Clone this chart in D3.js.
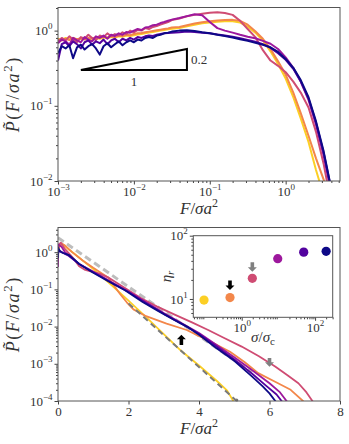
<!DOCTYPE html>
<html>
<head>
<meta charset="utf-8">
<script src="https://cdn.jsdelivr.net/npm/d3@7"></script>
<style>
  body { margin: 0; background: #fff; }
  svg text { font-family: "Liberation Serif", "DejaVu Serif", serif; fill: #333; }
</style>
</head>
<body>
<svg id="chart" width="349" height="444"></svg>
<script>
"use strict";

// plasma-like colours, from low sigma (yellow) to high sigma (navy)
const curveColors = ["#fccf25", "#f3874a", "#cf4c73", "#9d189d", "#53029f", "#0d0887"];

// ---- top panel: P(F) on log-log axes ----
// shared F grid: dense in the noisy low-F region, coarser in the tail
const topF = [
  1.00e-3, 1.12e-3, 1.26e-3, 1.41e-3, 1.58e-3, 1.78e-3, 2.00e-3, 2.24e-3, 2.51e-3, 2.82e-3,
  3.16e-3, 3.55e-3, 3.98e-3, 4.47e-3, 5.01e-3, 5.62e-3, 6.31e-3, 7.08e-3, 7.94e-3, 8.91e-3,
  1.00e-2, 1.12e-2, 1.26e-2, 1.41e-2, 1.58e-2, 1.78e-2, 2.00e-2, 2.24e-2, 2.51e-2, 2.82e-2, 3.16e-2,
  3.98e-2, 5.01e-2, 6.31e-2, 7.94e-2, 0.100, 0.126, 0.158, 0.200, 0.251, 0.316, 0.398,
  0.501, 0.631, 0.794, 1.00, 1.26, 1.58, 2.00, 2.51, 3.16, 3.98
];
const topYellow = [
  0.78, 0.75, 0.80, 0.77, 0.79, 0.76, 0.78, 0.80, 0.77, 0.79, 0.80, 0.78, 0.81, 0.80, 0.82, 0.81,
  0.84, 0.83, 0.86, 0.85, 0.87, 0.89, 0.90, 0.92, 0.94, 0.96, 0.98, 1.00, 1.02, 1.04, 1.06,
  1.08, 1.14, 1.20, 1.25, 1.28, 1.31, 1.33, 1.33, 1.28, 1.13, 0.94, 0.74, 0.53, 0.36, 0.23,
  0.13, 0.068, 0.033, 0.014, 0.0065, 0.003
];
const topOrange = [
  0.76, 0.74, 0.78, 0.75, 0.80, 0.77, 0.79, 0.76, 0.80, 0.78, 0.82, 0.80, 0.83, 0.81, 0.84, 0.82,
  0.86, 0.85, 0.88, 0.87, 0.90, 0.92, 0.93, 0.95, 0.97, 0.99, 1.01, 1.03, 1.05, 1.07, 1.10,
  1.12, 1.18, 1.24, 1.29, 1.33, 1.36, 1.38, 1.39, 1.35, 1.20, 0.98, 0.78, 0.57, 0.39, 0.26,
  0.15, 0.08, 0.04, 0.02, 0.0105, 0.005
];
const topPink = [
  0.72, 0.80, 0.74, 0.84, 0.76, 0.70, 0.82, 0.78, 0.88, 0.80, 0.75, 0.86, 0.82, 0.92, 0.84, 0.90,
  0.86, 0.95, 0.90, 1.00, 0.95, 1.02, 1.00, 1.08, 1.05, 1.12, 1.15, 1.20, 1.25, 1.30, 1.38,
  1.45, 1.55, 1.62, 1.68, 1.73, 1.75, 1.72, 1.62, 1.35, 1.05, 0.82, 0.55, 0.40, 0.34, 0.28,
  0.21, 0.15, 0.095, 0.045, 0.017, 0.005
];
const topPurple = [
  0.68, 0.76, 0.72, 0.65, 0.80, 0.74, 0.70, 0.82, 0.76, 0.72, 0.84, 0.80, 0.86, 0.78, 0.88, 0.85,
  0.92, 0.88, 0.96, 0.94, 1.00, 1.05, 1.02, 1.10, 1.12, 1.18, 1.20, 1.26, 1.30, 1.35, 1.40,
  1.47, 1.56, 1.65, 1.60, 1.30, 1.08, 1.00, 0.94, 0.88, 0.83, 0.79, 0.73, 0.67, 0.57, 0.44,
  0.32, 0.21, 0.12, 0.056, 0.022, 0.007
];
const topIndigo = [
  0.40, 0.66, 0.70, 0.62, 0.72, 0.66, 0.58, 0.70, 0.74, 0.65, 0.72, 0.68, 0.76, 0.66, 0.74, 0.78,
  0.70, 0.78, 0.74, 0.80, 0.76, 0.82, 0.80, 0.84, 0.86, 0.85, 0.88, 0.90, 0.92, 0.93, 0.94,
  0.95, 0.97, 0.96, 0.94, 0.92, 0.89, 0.86, 0.83, 0.79, 0.75, 0.71, 0.66, 0.59, 0.50, 0.41,
  0.31, 0.21, 0.125, 0.06, 0.024, 0.0078
];
const topNavy = [
  0.50, 0.62, 0.58, 0.64, 0.43, 0.60, 0.65, 0.56, 0.62, 0.66, 0.58, 0.48, 0.62, 0.68, 0.60, 0.66,
  0.72, 0.64, 0.70, 0.74, 0.70, 0.76, 0.74, 0.80, 0.82, 0.80, 0.86, 0.88, 0.92, 0.94, 0.97,
  1.00, 1.01, 0.99, 0.95, 0.92, 0.88, 0.85, 0.81, 0.77, 0.73, 0.69, 0.65, 0.60, 0.52, 0.42,
  0.32, 0.22, 0.13, 0.062, 0.025, 0.008
];
// slope-0.2 guide triangle
const triF = [0.002, 0.05];
const triP = 0.3;
const triSlope = 0.2;

// ---- bottom panel: P(F) on lin-log axes, [F, P] pairs ----
const botYellow = [[0, 1.1], [0.05, 1.5], [0.15, 1.6], [0.3, 1.2], [0.5, 0.85], [1.0, 0.35], [1.5, 0.135],
  [2.0, 0.05], [2.5, 0.018], [3.0, 0.0063], [3.5, 0.0022], [4.0, 0.0009], [4.5, 0.00035], [4.8, 0.00019], [5.0, 0.00009]];
const botOrange = [[0, 1.2], [0.08, 1.75], [0.2, 1.5], [0.4, 1.0], [0.7, 0.6], [1.0, 0.38], [1.42, 0.21], [1.76, 0.075],
  [1.95, 0.045], [2.14, 0.029], [2.5, 0.019], [3.08, 0.012], [3.65, 0.0081], [4.31, 0.004], [4.88, 0.0021],
  [5.3, 0.0011], [5.68, 0.00056], [6.16, 0.00033], [6.6, 0.0002], [6.95, 0.0001], [7.0, 0.00008]];
const botPink = [[0, 1.5], [0.08, 1.8], [0.2, 1.2], [0.35, 0.85], [0.47, 0.62], [0.6, 0.42], [0.75, 0.34], [0.95, 0.3],
  [1.2, 0.26], [1.42, 0.21], [1.62, 0.16], [2.0, 0.095], [2.36, 0.058], [2.8, 0.035], [3.31, 0.021], [3.8, 0.013],
  [4.26, 0.0081], [4.7, 0.005], [5.21, 0.0029], [5.7, 0.0016], [6.16, 0.00085], [6.5, 0.0005], [6.82, 0.0003],
  [7.05, 0.00017], [7.25, 0.00009]];
const botPurple = [[0, 0.4], [0.01, 1.6], [0.1, 1.4], [0.2, 1.0], [0.4, 0.7], [0.6, 0.48], [1.0, 0.3], [1.5, 0.16],
  [2.0, 0.088], [2.5, 0.045], [3.0, 0.023], [3.5, 0.0125], [4.0, 0.0067], [4.5, 0.0032], [5.0, 0.0015],
  [5.5, 0.00068], [6.0, 0.0003], [6.3, 0.00017], [6.52, 0.00009]];
const botIndigo = [[0, 0.9], [0.03, 1.15], [0.1, 1.0], [0.3, 0.8], [0.6, 0.48], [1.0, 0.29], [1.5, 0.155], [2.0, 0.085],
  [2.5, 0.043], [3.0, 0.022], [3.5, 0.012], [4.0, 0.0064], [4.5, 0.0029], [5.0, 0.0013], [5.5, 0.00055],
  [5.9, 0.00026], [6.2, 0.00015], [6.38, 0.00009]];
const botNavy = [[0, 0.7], [0.01, 1.3], [0.05, 1.05], [0.15, 0.95], [0.3, 0.85], [0.45, 0.65], [0.6, 0.48], [1.0, 0.28],
  [1.5, 0.15], [1.9, 0.095], [2.4, 0.046], [2.85, 0.026], [3.3, 0.015], [3.7, 0.0095], [4.0, 0.006], [4.5, 0.0026],
  [5.0, 0.0012], [5.5, 0.00046], [5.8, 0.00025], [6.0, 0.00016], [6.2, 0.00009]];
// exponential guides
const guideLight = [[0, 2.45], [5.5, 0.00058]];
const guideDark = [[2.0, 0.042], [5.07, 0.0001]];
// arrows: x, tail y, tip y
const botArrows = [{x: 3.5, from: 0.0032, to: 0.006, color: "#000"}, {x: 6.0, from: 0.00144, to: 0.00083, color: "#808080"}];

// ---- inset: eta_r vs sigma/sigma_c ----
const sigmaRatio = [0.094, 0.48, 1.95, 9.6, 49, 200];
const etaR = [9.6, 10.5, 21.2, 43.4, 55, 56.6];
const insetArrows = [{x: 0.48, from: 19.5, to: 13.8, color: "#000"}, {x: 1.95, from: 38, to: 27, color: "#808080"}];

const svg = d3.select("#chart");
const tickColor = "#444";

function decades(lo, hi) {
  const out = [];
  for (let e = Math.ceil(Math.log10(lo) - 1e-9); e <= Math.floor(Math.log10(hi) + 1e-9); e++) out.push(Math.pow(10, e));
  return out;
}
function minors(lo, hi) {
  const out = [];
  for (let e = Math.floor(Math.log10(lo)); e <= Math.ceil(Math.log10(hi)); e++) {
    for (let m = 2; m <= 9; m++) {
      const v = m * Math.pow(10, e);
      if (v >= lo && v <= hi) out.push(v);
    }
  }
  return out;
}
function powLabel(sel) {
  sel.each(function(d) {
    const e = Math.round(Math.log10(d));
    const t = d3.select(this).text(null);
    t.append("tspan").text("10");
    t.append("tspan").attr("dy", -6).attr("font-size", "9px").text(e < 0 ? "\u2212" + (-e) : e);
  });
}
function styleAxis(g) {
  g.select(".domain").remove();
  g.attr("font-family", null).attr("font-size", null);
  g.selectAll(".tick line").attr("stroke", tickColor);
  g.selectAll(".tick text").attr("font-size", "13px").attr("fill", "#333");
}
function addAxis(g, axis, tf, isLog) {
  const a = g.append("g").attr("transform", tf).call(axis);
  styleAxis(a);
  if (isLog) powLabel(a.selectAll(".tick text"));
  return a;
}
function arrowPath(x0, y0, y1) {
  const dir = y1 > y0 ? 1 : -1, sw = 1.8, hw = 4.5, hl = 4.5;
  const yb = y1 - dir * hl;
  return `M${x0 - sw},${y0}L${x0 + sw},${y0}L${x0 + sw},${yb}L${x0 + hw},${yb}L${x0},${y1}L${x0 - hw},${yb}L${x0 - sw},${yb}Z`;
}
function frame(g, x0, y0, w, h) {
  g.append("rect").attr("x", x0).attr("y", y0).attr("width", w).attr("height", h)
    .attr("fill", "none").attr("stroke", "#555").attr("stroke-width", 1);
}
function clip(id, x0, y0, w, h) {
  svg.append("clipPath").attr("id", id).append("rect")
    .attr("x", x0).attr("y", y0).attr("width", w).attr("height", h);
}
function fLabel(g, x, y) {
  const t = g.append("text").attr("x", x).attr("y", y).attr("text-anchor", "middle").attr("font-size", "17px");
  t.append("tspan").attr("font-style", "italic").text("F");
  t.append("tspan").text("/");
  t.append("tspan").attr("font-style", "italic").text("\u03c3a");
  t.append("tspan").attr("dy", -7).attr("font-size", "12px").text("2");
}
function pLabel(g, x, y) {
  const t = g.append("text").attr("transform", `translate(${x},${y}) rotate(-90)`)
    .attr("text-anchor", "middle").attr("font-size", "18px").attr("letter-spacing", "1.6px");
  t.append("tspan").attr("font-style", "italic").text("P\u0303");
  t.append("tspan").text("(");
  t.append("tspan").attr("font-style", "italic").text("F");
  t.append("tspan").text("/");
  t.append("tspan").attr("font-style", "italic").text("\u03c3a");
  t.append("tspan").attr("dy", -7).attr("font-size", "13px").text("2");
  t.append("tspan").attr("dy", 7).text(")");
}

// ================= top panel =================
const tp = {left: 58, top: 7.5, width: 282, height: 173.5};
const xT = d3.scaleLog().domain([1e-3, 5.2]).range([tp.left, tp.left + tp.width]);
const yT = d3.scaleLog().domain([1e-2, 2.03]).range([tp.top + tp.height, tp.top]);
clip("clipTop", tp.left, tp.top, tp.width, tp.height);
const gTop = svg.append("g");
const topSeries = [topYellow, topOrange, topPink, topPurple, topIndigo, topNavy];
const lineT = d3.line().x(d => xT(d[0])).y(d => yT(d[1]));
gTop.append("g").attr("clip-path", "url(#clipTop)")
  .selectAll("path").data(topSeries).join("path")
  .attr("d", s => lineT(d3.zip(topF, s)))
  .attr("fill", "none")
  .attr("stroke", (s, i) => curveColors[i])
  .attr("stroke-width", 2)
  .attr("stroke-linejoin", "round");

// slope triangle
const triTop = triP * Math.pow(triF[1] / triF[0], triSlope);
gTop.append("path")
  .attr("d", d3.line()([[xT(triF[0]), yT(triP)], [xT(triF[1]), yT(triP)], [xT(triF[1]), yT(triTop)], [xT(triF[0]), yT(triP)]]))
  .attr("fill", "none").attr("stroke", "#000").attr("stroke-width", 2).attr("stroke-linejoin", "miter");
gTop.append("text").attr("x", xT(triF[1]) + 4).attr("y", (yT(triP) + yT(triTop)) / 2 + 5)
  .attr("font-size", "13px").attr("fill", "#222").text("0.2");
gTop.append("text").attr("x", xT(Math.sqrt(triF[0] * triF[1]))).attr("y", yT(triP) + 16)
  .attr("text-anchor", "middle").attr("font-size", "13px").attr("fill", "#222").text("1");

addAxis(gTop, d3.axisBottom(xT).tickValues(minors(1e-3, 5.2)).tickSize(2).tickFormat(""), `translate(0,${tp.top + tp.height})`, false);
addAxis(gTop, d3.axisBottom(xT).tickValues(decades(1e-3, 5.2)).tickSize(3.5).tickPadding(2), `translate(0,${tp.top + tp.height})`, true);
addAxis(gTop, d3.axisLeft(yT).tickValues(minors(1e-2, 2.03)).tickSize(2).tickFormat(""), `translate(${tp.left},0)`, false);
addAxis(gTop, d3.axisLeft(yT).tickValues(decades(1e-2, 2.03)).tickSize(3.5).tickPadding(2), `translate(${tp.left},0)`, true);
frame(gTop, tp.left, tp.top, tp.width, tp.height);
fLabel(gTop, tp.left + tp.width / 2, 214);
pLabel(gTop, 19, tp.top + tp.height / 2);

// ================= bottom panel =================
const bp = {left: 58, top: 227.5, width: 282, height: 173.5};
const xB = d3.scaleLinear().domain([0, 8]).range([bp.left, bp.left + bp.width]);
const yB = d3.scaleLog().domain([1e-4, 4.6]).range([bp.top + bp.height, bp.top]);
clip("clipBot", bp.left, bp.top, bp.width, bp.height);
const gBot = svg.append("g");
const gBotLines = gBot.append("g").attr("clip-path", "url(#clipBot)");
const lineB = d3.line().x(d => xB(d[0])).y(d => yB(d[1]));
gBotLines.append("path").attr("d", lineB(guideLight))
  .attr("fill", "none").attr("stroke", "#bdbdbd").attr("stroke-width", 3).attr("stroke-dasharray", "7,4");
const botSeries = [botYellow, botOrange, botPink, botPurple, botIndigo, botNavy];
gBotLines.selectAll("path.curve").data(botSeries).join("path")
  .attr("class", "curve")
  .attr("d", lineB)
  .attr("fill", "none")
  .attr("stroke", (s, i) => curveColors[i])
  .attr("stroke-width", 1.8)
  .attr("stroke-linejoin", "round");
gBotLines.append("path").attr("d", lineB(guideDark))
  .attr("fill", "none").attr("stroke", "#7a7a7a").attr("stroke-width", 2).attr("stroke-dasharray", "6,4");
gBot.append("circle").attr("cx", xB(guideDark[1][0])).attr("cy", yB(guideDark[1][1]) - 1).attr("r", 1.6).attr("fill", "#7a7a7a");
gBot.selectAll("path.arrow").data(botArrows).join("path")
  .attr("class", "arrow")
  .attr("d", a => arrowPath(xB(a.x), yB(a.from), yB(a.to)))
  .attr("fill", a => a.color);

addAxis(gBot, d3.axisBottom(xB).tickValues([0, 2, 4, 6, 8]).tickSize(3.5).tickPadding(2), `translate(0,${bp.top + bp.height})`, false);
addAxis(gBot, d3.axisLeft(yB).tickValues(minors(1e-4, 4.6)).tickSize(2).tickFormat(""), `translate(${bp.left},0)`, false);
addAxis(gBot, d3.axisLeft(yB).tickValues(decades(1e-4, 4.6)).tickSize(3.5).tickPadding(2), `translate(${bp.left},0)`, true);
frame(gBot, bp.left, bp.top, bp.width, bp.height);
fLabel(gBot, bp.left + bp.width / 2, 434);
pLabel(gBot, 19, bp.top + bp.height / 2);

// ================= inset =================
const ip = {left: 193.3, top: 235.7, width: 139.4, height: 81.6};
const xI = d3.scaleLog().domain([0.048, 302]).range([ip.left, ip.left + ip.width]);
const yI = d3.scaleLog().domain([5.13, 100]).range([ip.top + ip.height, ip.top]);
const gIn = svg.append("g");
gIn.append("rect").attr("x", ip.left).attr("y", ip.top).attr("width", ip.width).attr("height", ip.height).attr("fill", "#fff");
gIn.selectAll("circle").data(d3.zip(sigmaRatio, etaR)).join("circle")
  .attr("cx", d => xI(d[0])).attr("cy", d => yI(d[1])).attr("r", 4.6)
  .attr("fill", (d, i) => curveColors[i]);
gIn.selectAll("path.arrow").data(insetArrows).join("path")
  .attr("class", "arrow")
  .attr("d", a => arrowPath(xI(a.x), yI(a.from), yI(a.to)))
  .attr("fill", a => a.color);
addAxis(gIn, d3.axisBottom(xI).tickValues(minors(0.048, 302)).tickSize(2).tickFormat(""), `translate(0,${ip.top + ip.height})`, false);
addAxis(gIn, d3.axisBottom(xI).tickValues([1, 100]).tickSize(3.5).tickPadding(2), `translate(0,${ip.top + ip.height})`, true);
addAxis(gIn, d3.axisLeft(yI).tickValues(minors(5.13, 100)).tickSize(2).tickFormat(""), `translate(${ip.left},0)`, false);
addAxis(gIn, d3.axisLeft(yI).tickValues([10, 100]).tickSize(3.5).tickPadding(2), `translate(${ip.left},0)`, true);
frame(gIn, ip.left, ip.top, ip.width, ip.height);
const sx = gIn.append("text").attr("x", ip.left + ip.width / 2).attr("y", 342).attr("text-anchor", "middle").attr("font-size", "15px");
sx.append("tspan").attr("font-style", "italic").text("\u03c3");
sx.append("tspan").text("/");
sx.append("tspan").attr("font-style", "italic").text("\u03c3");
sx.append("tspan").attr("dy", 3).attr("font-size", "11px").text("c");
const sy = gIn.append("text").attr("transform", `translate(171,${ip.top + ip.height / 2}) rotate(-90)`)
  .attr("text-anchor", "middle").attr("font-size", "15px");
sy.append("tspan").attr("font-style", "italic").text("\u03b7");
sy.append("tspan").attr("dy", 3).attr("font-size", "11px").attr("font-style", "italic").text("r");
</script>
</body>
</html>
